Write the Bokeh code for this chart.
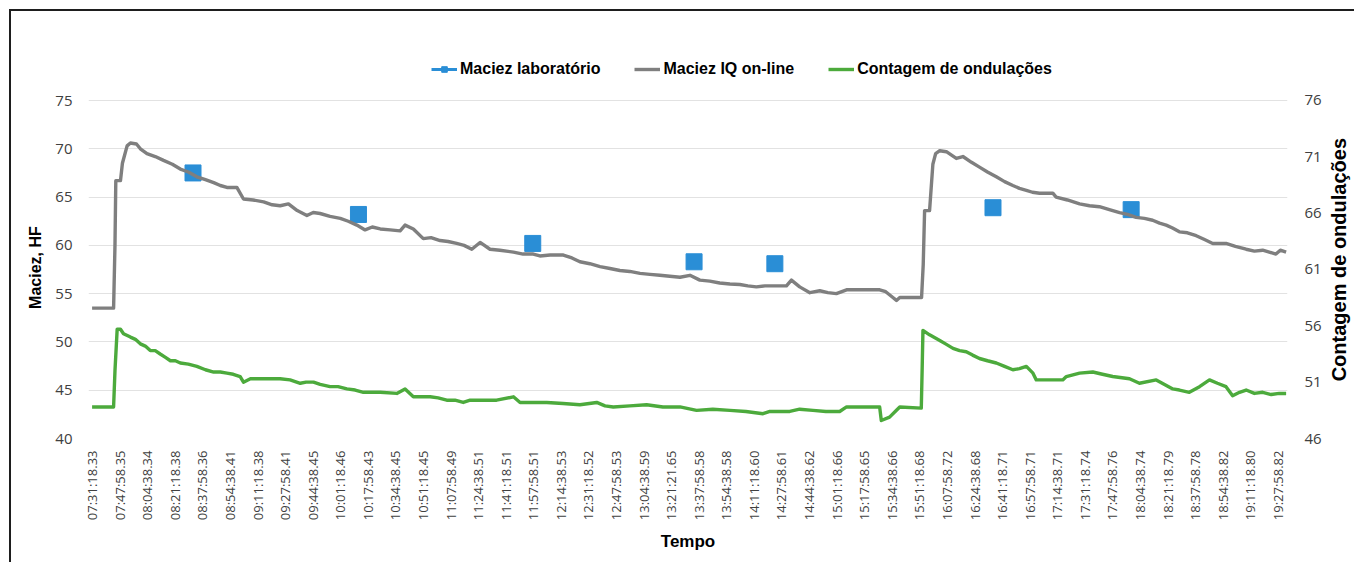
import math
from bokeh.plotting import figure
from bokeh.layouts import row
from bokeh.models import Range1d, LinearAxis, FixedTicker, Legend, LegendItem
from bokeh.core.properties import value
from bokeh.embed import file_html
from bokeh.resources import INLINE

# ---- tick labels (one every 1000 s) ----
time_labels = [
    "07:31:18.33", "07:47:58.35", "08:04:38.34", "08:21:18.38", "08:37:58.36",
    "08:54:38.41", "09:11:18.38", "09:27:58.41", "09:44:38.45", "10:01:18.46",
    "10:17:58.43", "10:34:38.45", "10:51:18.45", "11:07:58.49", "11:24:38.51",
    "11:41:18.51", "11:57:58.51", "12:14:38.53", "12:31:18.52", "12:47:58.53",
    "13:04:38.59", "13:21:21.65", "13:37:58.58", "13:54:38.58", "14:11:18.60",
    "14:27:58.61", "14:44:38.62", "15:01:18.66", "15:17:58.65", "15:34:38.66",
    "15:51:18.68", "16:07:58.72", "16:24:38.68", "16:41:18.71", "16:57:58.71",
    "17:14:38.71", "17:31:18.74", "17:47:58.76", "18:04:38.74", "18:21:18.79",
    "18:37:58.78", "18:54:38.82", "19:11:18.80", "19:27:58.82",
]
label_ks = list(range(len(time_labels)))  # elapsed time, thousands of seconds

left_ticks = [40, 45, 50, 55, 60, 65, 70, 75]
right_ticks = [46, 51, 56, 61, 66, 71, 76]

# ---- Maciez IQ on-line (elapsed ks, HF) ----
gray_t = [0.00, 0.78, 0.83, 0.86, 1.03, 1.10, 1.27, 1.39, 1.61, 1.75,
          1.99, 2.29, 2.59, 2.91, 3.20, 3.49, 3.80, 4.11, 4.41, 4.65,
          4.89, 5.25, 5.49, 5.84, 6.22, 6.53, 6.82, 7.12, 7.44, 7.79,
          8.02, 8.27, 8.63, 9.00, 9.29, 9.60, 9.90, 10.16, 10.45, 10.81,
          11.17, 11.35, 11.65, 12.01, 12.29, 12.62, 12.91, 13.22, 13.49, 13.77,
          14.07, 14.43, 14.79, 15.28, 15.63, 16.00, 16.24, 16.61, 17.09, 17.40,
          17.69, 18.05, 18.42, 18.78, 19.14, 19.50, 19.87, 20.23, 20.59, 20.95,
          21.32, 21.68, 22.04, 22.40, 22.76, 23.13, 23.49, 23.78, 24.09, 24.40,
          25.18, 25.36, 25.66, 26.03, 26.39, 26.68, 26.99, 27.36, 28.56, 28.78,
          29.04, 29.17, 29.29, 30.08, 30.14, 30.19, 30.37, 30.43, 30.49, 30.59,
          30.74, 30.98, 31.34, 31.58, 31.89, 32.18, 32.47, 32.79, 33.09, 33.39,
          33.63, 33.88, 34.10, 34.36, 34.84, 34.96, 35.37, 35.81, 36.17, 36.53,
          36.89, 37.26, 37.55, 37.86, 38.16, 38.46, 38.71, 38.95, 39.18, 39.43,
          39.72, 40.04, 40.34, 40.64, 41.12, 41.46, 41.85, 42.15, 42.45, 42.69,
          42.93, 43.09, 43.30]
gray_v = [53.5, 53.5, 60.0, 66.7, 66.7, 68.5, 70.3, 70.6, 70.5, 70.0,
          69.5, 69.2, 68.8, 68.4, 67.9, 67.6, 67.1, 66.8, 66.5, 66.2,
          66.0, 66.0, 64.8, 64.7, 64.5, 64.2, 64.1, 64.3, 63.6, 63.1,
          63.4, 63.3, 63.0, 62.8, 62.5, 62.1, 61.6, 61.9, 61.7, 61.6,
          61.5, 62.1, 61.7, 60.7, 60.8, 60.5, 60.4, 60.2, 60.0, 59.6,
          60.3, 59.6, 59.5, 59.3, 59.1, 59.1, 58.9, 59.0, 59.0, 58.7,
          58.3, 58.1, 57.8, 57.6, 57.4, 57.3, 57.1, 57.0, 56.9, 56.8,
          56.7, 56.9, 56.4, 56.3, 56.1, 56.0, 55.95, 55.8, 55.7, 55.8,
          55.8, 56.4, 55.7, 55.1, 55.3, 55.1, 55.0, 55.4, 55.4, 55.2,
          54.6, 54.3, 54.6, 54.6, 58.0, 63.6, 63.6, 66.0, 68.4, 69.5,
          69.8, 69.7, 69.0, 69.2, 68.6, 68.1, 67.6, 67.1, 66.6, 66.2,
          65.9, 65.7, 65.5, 65.4, 65.4, 65.0, 64.7, 64.3, 64.1, 64.0,
          63.7, 63.4, 63.2, 62.9, 62.8, 62.6, 62.3, 62.1, 61.8, 61.4,
          61.3, 61.0, 60.6, 60.2, 60.2, 59.9, 59.6, 59.4, 59.5, 59.3,
          59.1, 59.5, 59.3]

# ---- Contagem de ondulações (elapsed ks, count) ----
green_t = [0.00, 0.78, 0.83, 0.91, 1.03, 1.14, 1.39, 1.57, 1.75, 1.93,
           2.11, 2.29, 2.47, 2.66, 2.84, 3.02, 3.20, 3.49, 3.80, 4.11,
           4.41, 4.65, 4.89, 5.12, 5.37, 5.49, 5.74, 6.22, 6.82, 7.18,
           7.55, 7.76, 8.03, 8.27, 8.63, 8.92, 9.24, 9.54, 9.84, 10.45,
           11.05, 11.35, 11.65, 12.26, 12.55, 12.86, 13.16, 13.46, 13.71, 14.07,
           14.67, 15.28, 15.52, 16.49, 17.08, 17.69, 18.30, 18.60, 18.90, 19.50,
           20.11, 20.70, 21.32, 21.92, 22.51, 23.13, 23.71, 24.33, 24.58, 25.30,
           25.66, 26.14, 26.61, 27.11, 27.36, 28.56, 28.62, 28.92, 29.17, 29.29,
           30.07, 30.10, 30.13, 30.37, 30.74, 30.95, 31.22, 31.46, 31.70, 31.93,
           32.18, 32.47, 32.79, 33.09, 33.39, 33.63, 33.88, 34.12, 34.24, 35.20,
           35.33, 35.81, 36.29, 36.64, 37.01, 37.62, 37.98, 38.59, 38.89, 39.19,
           39.43, 39.79, 40.16, 40.52, 40.81, 41.12, 41.36, 41.61, 41.85, 42.15,
           42.45, 42.76, 43.05, 43.30]
green_v = [48.8, 48.8, 52.0, 55.7, 55.7, 55.3, 55.0, 54.8, 54.4, 54.2,
           53.8, 53.8, 53.5, 53.2, 52.9, 52.9, 52.7, 52.6, 52.4, 52.1,
           51.9, 51.9, 51.8, 51.7, 51.5, 51.0, 51.3, 51.3, 51.3, 51.2,
           50.9, 51.0, 51.0, 50.8, 50.6, 50.6, 50.4, 50.3, 50.1, 50.1,
           50.0, 50.4, 49.7, 49.7, 49.6, 49.4, 49.4, 49.2, 49.4, 49.4,
           49.4, 49.7, 49.2, 49.2, 49.1, 49.0, 49.2, 48.9, 48.8, 48.9,
           49.0, 48.8, 48.8, 48.5, 48.6, 48.5, 48.4, 48.2, 48.4, 48.4,
           48.6, 48.5, 48.4, 48.4, 48.8, 48.8, 47.6, 47.9, 48.5, 48.8,
           48.7, 52.0, 55.6, 55.2, 54.7, 54.4, 54.0, 53.8, 53.7, 53.4,
           53.1, 52.9, 52.7, 52.4, 52.1, 52.2, 52.4, 51.8, 51.2, 51.2,
           51.5, 51.8, 51.9, 51.7, 51.5, 51.3, 50.9, 51.2, 50.8, 50.4,
           50.3, 50.1, 50.6, 51.2, 50.9, 50.6, 49.8, 50.1, 50.3, 50.0,
           50.1, 49.9, 50.0, 50.0]

# ---- Maciez laboratório ----
lab_t = [3.66, 9.66, 15.98, 21.83, 24.76, 32.67, 37.68]
lab_v = [67.5, 63.2, 60.2, 58.3, 58.1, 63.9, 63.7]

BLUE = "#2a8ed6"
GRAY = "#7f7f7f"
GREEN = "#4caa3c"
TXT = "#404040"
TOP, BOTTOM = 36, 124
H = 551

left_range = Range1d(40, 80.49)
right_range = Range1d(46, 80.70)


def plain_axis(ax, size):
    ax.major_label_text_font = "Open Sans"
    ax.major_label_text_font_size = size
    ax.major_label_text_color = TXT
    ax.axis_line_color = None
    ax.major_tick_line_color = None
    ax.minor_tick_line_color = None
    ax.major_tick_out = 0
    ax.major_tick_in = 0
    ax.minor_tick_out = 0
    ax.minor_tick_in = 0


# ---------------- main chart ----------------
p = figure(width=1273, height=H, output_backend="svg", toolbar_location=None,
           title=None, x_range=Range1d(-0.13, 43.35), y_range=left_range,
           min_border_left=37, min_border_right=37, min_border_top=TOP,
           min_border_bottom=BOTTOM)
p.outline_line_color = None
p.background_fill_color = "white"
p.border_fill_color = "white"
p.extra_y_ranges = {"ond": right_range}

xa = p.xaxis[0]
xa.ticker = FixedTicker(ticks=label_ks)
xa.major_label_overrides = {k: s for k, s in zip(label_ks, time_labels)}
xa.major_label_orientation = math.pi / 2
plain_axis(xa, "13px")
xa.major_label_standoff = 12
xa.axis_label = "Tempo"
xa.axis_label_text_font = "Liberation Sans"
xa.axis_label_text_font_style = "bold"
xa.axis_label_text_font_size = "17px"
xa.axis_label_text_color = "black"
xa.axis_label_standoff = 9

ya = p.yaxis[0]
ya.ticker = FixedTicker(ticks=left_ticks)
plain_axis(ya, "15px")
ya.major_label_standoff = 16

yr = LinearAxis(y_range_name="ond", ticker=FixedTicker(ticks=right_ticks))
plain_axis(yr, "15px")
yr.major_label_standoff = 17
p.add_layout(yr, "right")

p.xgrid.grid_line_color = None
p.ygrid.ticker = FixedTicker(ticks=left_ticks)
p.ygrid.grid_line_color = "#e2e2e2"
p.ygrid.grid_line_width = 1

lab_line_key = p.line(x=lab_t[:1], y=[math.nan], line_color=BLUE, line_width=3)
sq = p.scatter(lab_t, lab_v, marker="square", size=16, fill_color=BLUE, line_color=BLUE)
gl = p.line(gray_t, gray_v, line_color=GRAY, line_width=3.4, line_join="round")
gr = p.line(green_t, green_v, line_color=GREEN, line_width=3.4, line_join="round",
            y_range_name="ond")

legend = Legend(items=[
    LegendItem(label="Maciez laboratório", renderers=[lab_line_key, sq]),
    LegendItem(label="Maciez IQ on-line", renderers=[gl]),
    LegendItem(label="Contagem de ondulações", renderers=[gr]),
], orientation="horizontal")
legend.label_text_font = "Liberation Sans"
legend.label_text_font_style = "bold"
legend.label_text_font_size = "16px"
legend.label_text_color = "black"
legend.glyph_width = 26
legend.glyph_height = 14
legend.label_standoff = 3
legend.spacing = 34
legend.padding = 0
legend.margin = 0
legend.border_line_color = None
legend.background_fill_alpha = 0
legend.location = (343, 360)
p.add_layout(legend, "center")


# ---------------- side strips carrying the two vertical axis titles ----------------
def title_strip(width, y_range, text, x, y, size):
    s = figure(width=width, height=H, output_backend="svg", toolbar_location=None,
               title=None, x_range=Range1d(0, width), y_range=y_range,
               x_axis_location=None, y_axis_location=None,
               min_border_left=0, min_border_right=0,
               min_border_top=TOP, min_border_bottom=BOTTOM)
    s.grid.visible = False
    s.outline_line_color = None
    s.background_fill_color = "white"
    s.border_fill_color = "white"
    s.text(x=[x], y=[y], text=[text], angle=math.pi / 2,
           text_align="center", text_baseline="middle",
           text_font=value("Liberation Sans"), text_font_style="bold",
           text_font_size=size, text_color="black")
    return s


p_left = title_strip(40, left_range, "Maciez, HF", 24, 57.7, "16px")
p_right = title_strip(30, right_range, "Contagem de ondulações", 14.4, 61.87, "20px")

lay = row(p_left, p, p_right)
lay.styles = {"border-left": "2px solid #1e1e1e", "border-top": "2px solid #1e1e1e",
              "margin-left": "9px", "margin-top": "9px"}

open("out.html", "w").write(file_html(lay, INLINE))
